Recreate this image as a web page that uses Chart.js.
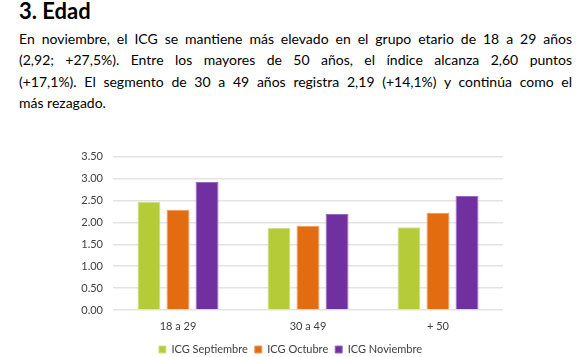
<!DOCTYPE html>
<html>
<head>
<meta charset="utf-8">
<script src="https://cdn.jsdelivr.net/npm/chart.js@4.4.1/dist/chart.umd.min.js"></script>
<style>
  html,body{margin:0;padding:0;background:#fff;width:581px;height:357px;overflow:hidden;}
  #h{position:absolute;left:19px;top:-3px;font:bold 22px Lato, sans-serif;color:#000;margin:0;}
  #p{position:absolute;left:19px;top:28px;width:553px;font:14px Lato, sans-serif;color:#000;line-height:21.4px;margin:0;}
  #p span{display:block;text-align:justify;text-align-last:justify;white-space:nowrap;}
  #p span.last{text-align-last:left;}
  #wrap{position:absolute;left:0;top:140px;width:581px;height:225px;}
</style>
</head>
<body>
<h1 id="h">3. Edad</h1>
<p id="p"><span>En noviembre, el ICG se mantiene más elevado en el grupo etario de 18 a 29 años</span><span>(2,92; +27,5%). Entre los mayores de 50 años, el índice alcanza 2,60 puntos</span><span>(+17,1%). El segmento de 30 a 49 años registra 2,19 (+14,1%) y continúa como el</span><span class="last">más rezagado.</span></p>
<div id="wrap"><canvas id="c" width="581" height="225"></canvas></div>
<script>
const categories = ["18 a 29", "30 a 49", "+ 50"];
const septiembre = [2.47, 1.87, 1.89];
const octubre = [2.29, 1.92, 2.22];
const noviembre = [2.92, 2.19, 2.60];
const seriesNames = ["ICG Septiembre", "ICG Octubre", "ICG Noviembre"];
const yTicks = [0, 0.5, 1, 1.5, 2, 2.5, 3, 3.5];

const font = "Lato, sans-serif";
new Chart(document.getElementById('c'), {
  type: 'bar',
  data: {
    labels: categories,
    datasets: [
      {label: seriesNames[0], data: septiembre, backgroundColor: '#B6CB38', borderColor: '#D2E08A', borderWidth: 1},
      {label: seriesNames[1], data: octubre, backgroundColor: '#E36C10', borderColor: '#EE9A5A', borderWidth: 1},
      {label: seriesNames[2], data: noviembre, backgroundColor: '#7030A0', borderColor: '#9A6AC0', borderWidth: 1}
    ]
  },
  options: {
    responsive: false,
    animation: false,
    devicePixelRatio: 1,
    layout: {padding: {top: 16.5, right: 0, left: 0, bottom: 0}},
    datasets: {bar: {categoryPercentage: 0.67, barPercentage: 0.79}},
    plugins: {
      legend: {
        position: 'bottom',
        labels: {boxWidth: 7, boxHeight: 7, padding: 7, color: '#404040', font: {family: font, size: 11}}
      },
      tooltip: {enabled: false}
    },
    scales: {
      x: {
        grid: {display: false, drawTicks: false},
        border: {display: false},
        ticks: {color: '#404040', padding: 10, font: {family: font, size: 11}},
        afterFit: s => { s.height = 27; }
      },
      y: {
        min: 0, max: 3.5,
        afterBuildTicks: s => { s.ticks = yTicks.map(v => ({value: v})); },
        grid: {color: '#E3E3E3', lineWidth: 1.5, drawTicks: false},
        border: {display: false},
        ticks: {color: '#404040', padding: 10, font: {family: font, size: 11}, callback: v => Number(v).toFixed(2)},
        afterFit: s => { s.width = 113; }
      },
      yRight: {
        position: 'right',
        min: 0, max: 3.5,
        grid: {display: false, drawTicks: false},
        border: {display: false},
        ticks: {display: false},
        afterFit: s => { s.width = 78; }
      }
    }
  }
});
</script>
</body>
</html>
